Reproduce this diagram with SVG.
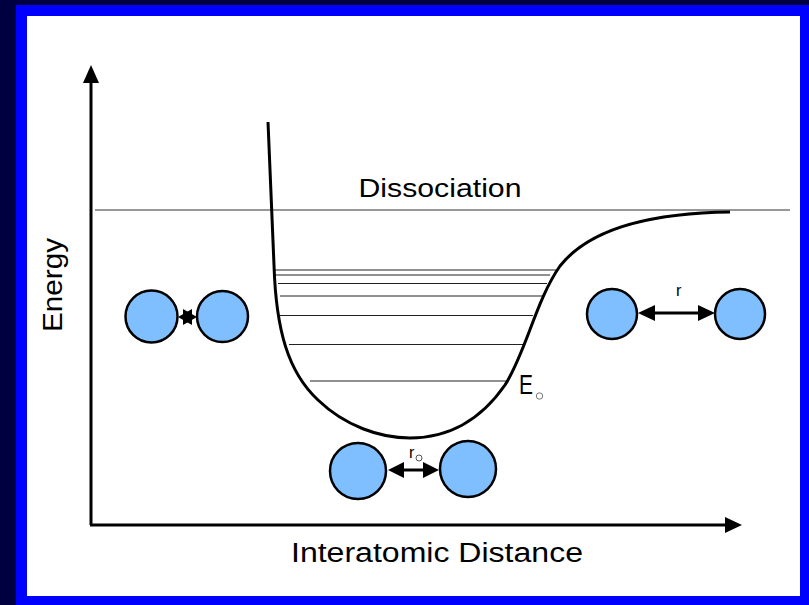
<svg xmlns="http://www.w3.org/2000/svg" width="809" height="605" viewBox="0 0 809 605">
  <style>
    .atom { fill: #80bfff; stroke: #000; stroke-width: 2.5; }
    .lbl { font-family: "Liberation Sans", Arial, sans-serif; fill: #000; }
    .lvl { stroke: #222; stroke-width: 1; }
    .ax { stroke: #000; stroke-width: 3; fill: none; }
    .bond { stroke: #000; stroke-width: 3; }
  </style>
  <defs>
    <marker id="ah" viewBox="0 0 10 10" refX="9" refY="5" markerWidth="6" markerHeight="6" orient="auto-start-reverse" markerUnits="userSpaceOnUse">
      <path d="M0,0 L10,5 L0,10 Z" fill="#000"/>
    </marker>
  </defs>
  <!-- frame -->
  <rect x="0" y="0" width="809" height="605" fill="#000040"/>
  <rect x="16" y="5" width="793" height="600" fill="#0000ff"/>
  <rect x="27" y="16" width="773" height="580" fill="#ffffff"/>

  <!-- axes -->
  <g id="axes">
    <line class="ax" x1="91" y1="525" x2="91" y2="82"/>
    <polygon points="91,65 83,83 99,83" fill="#000"/>
    <line class="ax" x1="90" y1="525" x2="726" y2="525"/>
    <polygon points="742,525 725,517 725,533" fill="#000"/>
    <text class="lbl" x="437" y="562" font-size="27" text-anchor="middle" textLength="292" lengthAdjust="spacingAndGlyphs">Interatomic Distance</text>
    <text class="lbl" font-size="27" text-anchor="middle" transform="translate(62,285) rotate(-90)" textLength="94" lengthAdjust="spacingAndGlyphs">Energy</text>
  </g>

  <!-- dissociation -->
  <g id="dissociation">
    <line x1="95" y1="210" x2="790" y2="210" stroke="#333" stroke-width="1"/>
    <text class="lbl" x="440" y="197" font-size="26" text-anchor="middle" textLength="163" lengthAdjust="spacingAndGlyphs">Dissociation</text>
  </g>

  <!-- energy levels -->
  <g id="levels">
    <line class="lvl" x1="275" y1="270" x2="558" y2="270"/>
    <line class="lvl" x1="275" y1="275" x2="550" y2="275"/>
    <line class="lvl" x1="278" y1="283.5" x2="547" y2="283.5"/>
    <line class="lvl" x1="280" y1="296" x2="543" y2="296"/>
    <line class="lvl" x1="280" y1="315.5" x2="533" y2="315.5"/>
    <line class="lvl" x1="289" y1="344.5" x2="523" y2="344.5"/>
    <line class="lvl" x1="310" y1="381" x2="508" y2="381"/>
  </g>

  <!-- potential curve -->
  <g id="curve">
    <path d="M268,122 L274,265 C276,330 288,372 318,400 C345,426 380,438 410,438 C452,438 482,418 505,385 C526,352 536,300 560,266 C590,228 650,213 730,212" fill="none" stroke="#000" stroke-width="3"/>
    <text class="lbl" x="519" y="394" font-size="28" textLength="14" lengthAdjust="spacingAndGlyphs">E</text>
    <circle cx="539.5" cy="396" r="3.2" fill="none" stroke="#777" stroke-width="1"/>
  </g>

  <!-- compressed molecule -->
  <g id="mol-compressed">
    <circle class="atom" cx="151.5" cy="316.5" r="26"/>
    <circle class="atom" cx="222.5" cy="316.5" r="25.5"/>
    <polygon points="178,317 192,309 192,325" fill="#000"/>
    <polygon points="197,317 183,309 183,325" fill="#000"/>
  </g>

  <!-- equilibrium molecule -->
  <g id="mol-equilibrium">
    <circle class="atom" cx="358" cy="471" r="28"/>
    <circle class="atom" cx="468" cy="469" r="28"/>
    <line class="bond" x1="400" y1="470" x2="426" y2="470"/>
    <polygon points="388,470 404,462 404,478" fill="#000"/>
    <polygon points="439,470 423,462 423,478" fill="#000"/>
    <text class="lbl" x="409" y="458" font-size="16">r</text>
    <circle cx="419" cy="458" r="3" fill="none" stroke="#555" stroke-width="1"/>
  </g>

  <!-- separated molecule -->
  <g id="mol-separated">
    <circle class="atom" cx="612" cy="314" r="25"/>
    <circle class="atom" cx="740" cy="314" r="25"/>
    <line class="bond" x1="652" y1="313" x2="700" y2="313"/>
    <polygon points="638,313 655,305 655,321" fill="#000"/>
    <polygon points="715,313 698,305 698,321" fill="#000"/>
    <text class="lbl" x="676" y="296" font-size="16">r</text>
  </g>
</svg>
